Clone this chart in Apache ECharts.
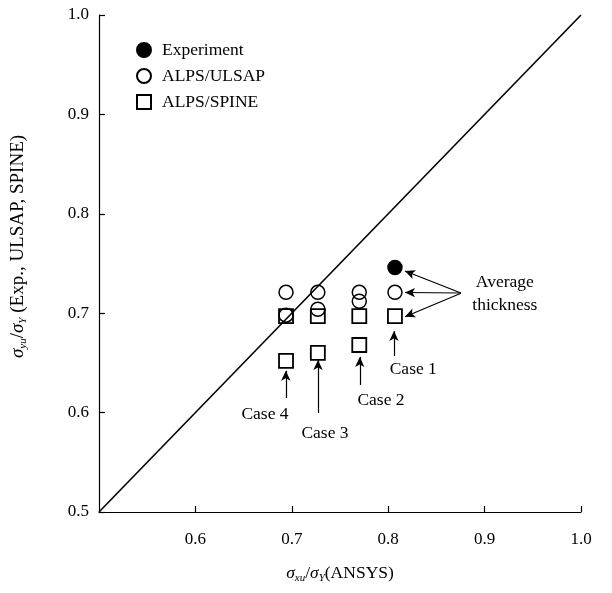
<!DOCTYPE html>
<html>
<head>
<meta charset="utf-8">
<script src="https://cdn.jsdelivr.net/npm/echarts@6/dist/echarts.min.js"></script>
<style>
  html, body { margin: 0; padding: 0; background: #fff; }
  #chart { width: 612px; height: 593px; }
</style>
</head>
<body>
<div id="chart"></div>
<script>
// Normalised ultimate strength: ANSYS (x) against experiment / ULSAP / SPINE (y)
const experiment = [[0.807, 0.746]];
const ulsap = [
  [0.694, 0.721], [0.694, 0.698],
  [0.727, 0.721], [0.727, 0.704],
  [0.770, 0.721], [0.770, 0.712],
  [0.807, 0.721]
];
const spine = [
  [0.694, 0.697], [0.694, 0.652],
  [0.727, 0.697], [0.727, 0.660],
  [0.770, 0.697], [0.770, 0.668],
  [0.807, 0.697]
];
const equalityLine = [[0.5, 0.5], [1.0, 1.0]];
const xTicks = [0.5, 0.6, 0.7, 0.8, 0.9, 1.0];
const yTicks = [0.5, 0.6, 0.7, 0.8, 0.9, 1.0];

// Annotation texts and arrows (in data units)
const noteTexts = [
  { name: 'Average\nthickness', value: [0.921, 0.719] },
  { name: 'Case 1', value: [0.826, 0.643] },
  { name: 'Case 2', value: [0.7925, 0.612] },
  { name: 'Case 3', value: [0.7344, 0.5795] },
  { name: 'Case 4', value: [0.6722, 0.5986] }
];
const noteArrows = [
  [[0.8755, 0.7203], [0.8174, 0.7425]],
  [[0.8755, 0.7203], [0.8174, 0.7208]],
  [[0.8755, 0.7200], [0.8174, 0.6965]],
  [[0.806, 0.657], [0.806, 0.682]],
  [[0.7705, 0.6278], [0.7705, 0.656]],
  [[0.7272, 0.5996], [0.7272, 0.653]],
  [[0.6938, 0.6147], [0.6938, 0.642]]
];

const FONT = '"Liberation Serif", "DejaVu Serif", serif';
const chart = echarts.init(document.getElementById('chart'), null, { renderer: 'canvas' });

function titleRich(size) {
  return {
    s: { fontFamily: FONT, fontStyle: 'italic', fontSize: size, color: '#000', lineHeight: 22, verticalAlign: 'middle' },
    sub: { fontFamily: FONT, fontStyle: 'italic', fontSize: 11, color: '#000', lineHeight: 11, verticalAlign: 'bottom' },
    t: { fontFamily: FONT, fontSize: size, color: '#000', lineHeight: 22, verticalAlign: 'middle' }
  };
}

const option = {
  backgroundColor: '#fff',
  animation: false,
  textStyle: { fontFamily: FONT },
  grid: { left: 99, right: 31, top: 15, bottom: 81, containLabel: false },
  legend: {
    orient: 'vertical',
    left: 136,
    top: 41,
    padding: 0,
    itemWidth: 14,
    itemHeight: 14,
    itemGap: 8,
    selectedMode: false,
    textStyle: { fontFamily: FONT, fontSize: 17.5, color: '#000', padding: [0, 0, 0, 6] },
    data: ['Experiment', 'ALPS/ULSAP', 'ALPS/SPINE']
  },
  xAxis: {
    type: 'value',
    min: 0.5, max: 1.0, interval: 0.1,
    name: '{s|σ}{sub|xu}{t|/}{s|σ}{sub|Y}{t|(ANSYS)}',
    nameLocation: 'middle',
    nameGap: 50,
    nameTextStyle: { rich: titleRich(17.5) },
    axisLine: { lineStyle: { color: '#000', width: 1.2 } },
    axisTick: { inside: true, length: 6, lineStyle: { color: '#000', width: 1.2 } },
    splitLine: { show: false },
    axisLabel: {
      color: '#000', fontFamily: FONT, fontSize: 17, margin: 19,
      showMinLabel: false,
      formatter: v => {
        const t = xTicks.find(k => Math.abs(k - v) < 1e-9);
        return t === undefined ? '' : t.toFixed(1);
      }
    }
  },
  yAxis: {
    type: 'value',
    min: 0.5, max: 1.0, interval: 0.1,
    name: '{s|σ}{sub|yu}{t|/}{s|σ}{sub|Y}{t| (Exp., ULSAP, SPINE)}',
    nameLocation: 'middle',
    nameGap: 70,
    nameRotate: 90,
    nameTextStyle: { rich: titleRich(19), padding: [0, 0, 0, 34] },
    axisLine: { lineStyle: { color: '#000', width: 1.2 } },
    axisTick: { inside: true, length: 6, lineStyle: { color: '#000', width: 1.2 } },
    splitLine: { show: false },
    axisLabel: {
      color: '#000', fontFamily: FONT, fontSize: 17, margin: 10,
      formatter: v => {
        const t = yTicks.find(k => Math.abs(k - v) < 1e-9);
        return t === undefined ? '' : t.toFixed(1);
      }
    }
  },
  series: [
    {
      name: 'equality',
      type: 'line',
      data: equalityLine,
      symbol: 'none',
      silent: true,
      lineStyle: { color: '#000', width: 1.6 },
      z: 1,
      markLine: {
        silent: true,
        symbol: ['none', 'arrow'],
        symbolSize: [7, 10],
        lineStyle: { color: '#000', width: 1.2, type: 'solid' },
        label: { show: false },
        data: noteArrows.map(a => [{ coord: a[0] }, { coord: a[1] }])
      }
    },
    {
      name: 'Experiment',
      type: 'scatter',
      data: experiment,
      symbol: 'circle',
      symbolSize: 14,
      itemStyle: { color: '#000', borderColor: '#000', borderWidth: 1.5, opacity: 1 },
      z: 3
    },
    {
      name: 'ALPS/ULSAP',
      type: 'scatter',
      data: ulsap,
      symbol: 'circle',
      symbolSize: 14,
      itemStyle: { color: 'rgba(255,255,255,0)', borderColor: '#000', borderWidth: 1.5, opacity: 1 },
      z: 3
    },
    {
      name: 'ALPS/SPINE',
      type: 'scatter',
      data: spine,
      symbol: 'rect',
      symbolSize: 14,
      itemStyle: { color: 'rgba(255,255,255,0)', borderColor: '#000', borderWidth: 1.8, opacity: 1 },
      z: 3
    },
    {
      name: 'notes',
      type: 'scatter',
      data: noteTexts,
      symbolSize: 0,
      silent: true,
      itemStyle: { opacity: 1 },
      label: {
        show: true,
        position: 'inside',
        formatter: p => p.name,
        fontFamily: FONT,
        fontSize: 17.5,
        lineHeight: 23,
        color: '#000',
        textBorderWidth: 0,
        opacity: 1,
        align: 'center',
        verticalAlign: 'middle'
      },
      z: 4
    }
  ]
};

chart.setOption(option);
</script>
</body>
</html>
